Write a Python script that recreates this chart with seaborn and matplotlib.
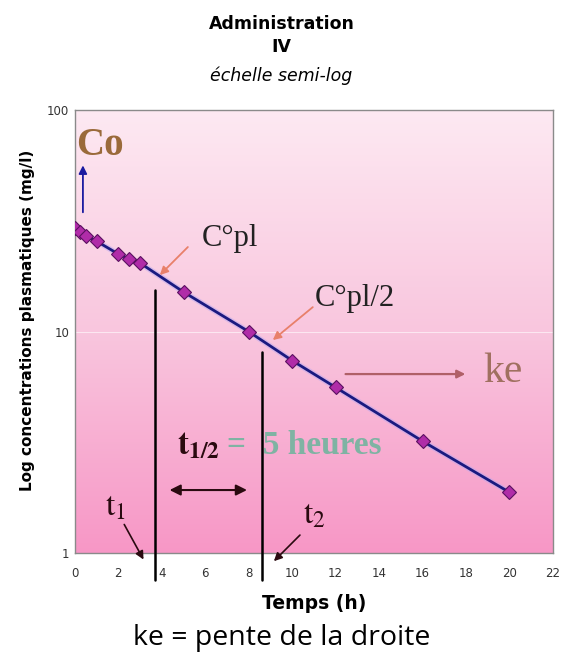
import numpy as np
import pandas as pd
import matplotlib
matplotlib.use("Agg")
import matplotlib.pyplot as plt
from matplotlib.colors import LinearSegmentedColormap
import seaborn as sns

# données
temps = [0, 0.25, 0.5, 1, 2, 2.5, 3, 5, 8, 10, 12, 16, 20]
conc = [29.3, 28.1, 27.0, 25.6, 22.4, 21.3, 20.4, 15.1, 10.0, 7.4, 5.6, 3.2, 1.88]
xticks = list(range(0, 23, 2))
yticks = [1, 10, 100]
t1 = 3.7
t2 = 8.6

sns.set_theme(style="white")
plt.rcParams['font.family'] = ['DejaVu Sans']
plt.rcParams['mathtext.fontset'] = 'stix'
plt.rcParams['text.color'] = 'black'

df = pd.DataFrame({"Temps (h)": temps, "conc": conc})

fig = plt.figure(figsize=(5.63, 6.56), dpi=100)
ax = fig.add_axes([0.133, 0.157, 0.849, 0.675])

# fond dégradé rose
cmap = LinearSegmentedColormap.from_list("rose", ["#fde9f2", "#f9c6de", "#f797c6"])
grad = np.linspace(0, 1, 256).reshape(-1, 1)
ax.imshow(grad, aspect="auto", cmap=cmap, extent=[0, 1, 0, 1],
          transform=ax.transAxes, zorder=0)

ax.set_yscale("log")
ax.set_xlim(0, 22)
ax.set_ylim(1, 100)
ax.axhline(10, color="white", lw=0.8, alpha=0.6, zorder=1)

# droite + points
ax.plot(temps, conc, color="#b9a8f0", lw=4, alpha=0.5, zorder=2)
sns.lineplot(data=df, x="Temps (h)", y="conc", ax=ax, color="#1a1a80", lw=2,
             marker="D", markersize=7, markerfacecolor="#b02ca8",
             markeredgecolor="#5a1060", markeredgewidth=0.8, zorder=3)

# verticales t1 et t2
ax.plot([t1, t1], [0.755, 15.4], color="black", lw=1.8, clip_on=False, zorder=4)
ax.plot([t2, t2], [0.755, 8.1], color="black", lw=1.8, clip_on=False, zorder=4)

serif = "Liberation Serif"
dark = "#2a0a10"
ax.text(1.15, 69, "Co", fontsize=28, fontweight="bold", family=serif,
        color="#9a6a3a", ha="center", va="center")
ax.annotate("", xy=(0.37, 58), xytext=(0.37, 33.6),
            arrowprops=dict(arrowstyle="-|>", color="#1a1aa0", lw=1.3))

ax.text(7.15, 26.3, "C°pl", fontsize=22, family=serif, color="#222222",
        ha="center", va="center")
ax.annotate("", xy=(3.91, 18.0), xytext=(5.2, 24.1),
            arrowprops=dict(arrowstyle="-|>", color="#e8806a", lw=1.3,
                            shrinkA=0, shrinkB=0))
ax.text(12.9, 14.1, "C°pl/2", fontsize=22, family=serif, color="#222222",
        ha="center", va="center")
ax.annotate("", xy=(9.11, 9.16), xytext=(10.95, 12.9),
            arrowprops=dict(arrowstyle="-|>", color="#e8806a", lw=1.3,
                            shrinkA=0, shrinkB=0))

ax.annotate("", xy=(18.1, 6.43), xytext=(12.33, 6.43),
            arrowprops=dict(arrowstyle="-|>", color="#b06068", lw=1.6))
ax.text(19.7, 6.6, "ke", fontsize=30, family=serif, color="#a07060",
        ha="center", va="center")

ax.text(4.7, 3.07, r"$\mathbf{t_{1/2}}$", fontsize=24, color=dark,
        ha="left", va="center")
ax.text(7.0, 3.07, "=  5 heures", fontsize=24, fontweight="bold",
        family=serif, color="#7fb3a3", ha="left", va="center")
ax.annotate("", xy=(4.23, 1.925), xytext=(8.05, 1.925),
            arrowprops=dict(arrowstyle="<|-|>", color=dark, lw=1.5,
                            mutation_scale=16))

ax.text(1.89, 1.63, r"$\mathrm{t_1}$", fontsize=24, color=dark,
        ha="center", va="center")
ax.annotate("", xy=(3.22, 0.911), xytext=(2.21, 1.38), annotation_clip=False,
            arrowprops=dict(arrowstyle="-|>", color=dark, lw=1.2))
ax.text(11.04, 1.5, r"$\mathrm{t_2}$", fontsize=24, color=dark,
        ha="center", va="center")
ax.annotate("", xy=(9.07, 0.90), xytext=(10.45, 1.23), annotation_clip=False,
            arrowprops=dict(arrowstyle="-|>", color=dark, lw=1.2))

ax.set_xticks(xticks)
ax.set_xticklabels([str(v) for v in xticks])
ax.set_yticks(yticks)
ax.set_yticklabels([str(v) for v in yticks])
ax.minorticks_off()
ax.tick_params(axis="both", labelsize=8.5, colors="#333333", length=3,
               direction="in")
ax.tick_params(axis="x", pad=10)
ax.tick_params(axis="y", pad=4)
for s in ax.spines.values():
    s.set_color("#8a8a8a")
    s.set_linewidth(1)

ax.set_xlabel("Temps (h)", fontsize=13.5, fontweight="bold", labelpad=10,
              color="black")
ax.set_ylabel("Log concentrations plasmatiques (mg/l)", fontsize=11,
              fontweight="bold", color="black")
ax.yaxis.set_label_coords(-0.083, 0.526)

fig.text(0.5, 0.964, "Administration", fontsize=12.5, fontweight="bold",
         ha="center", va="center")
fig.text(0.5, 0.928, "IV", fontsize=12.5, fontweight="bold", ha="center",
         va="center")
fig.text(0.5, 0.885, "échelle semi-log", fontsize=12.5, style="italic",
         ha="center", va="center")
fig.text(0.5, 0.028, "ke = pente de la droite", fontsize=20.5,
         family="Open Sans", ha="center", va="center")

fig.savefig("out.png", dpi=100)
